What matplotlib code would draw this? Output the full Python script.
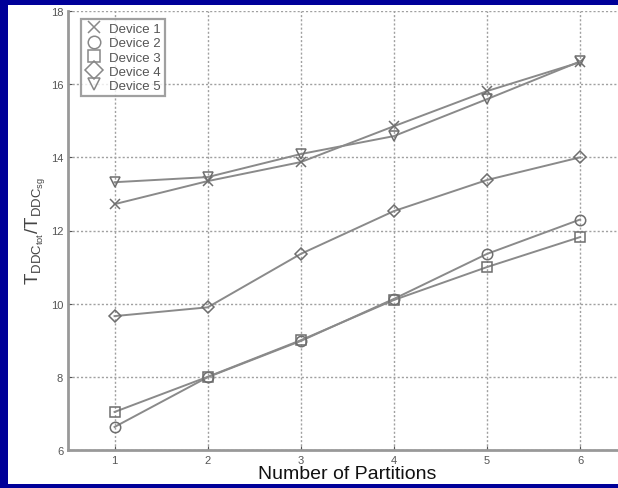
import matplotlib
matplotlib.use("Agg")
import matplotlib.pyplot as plt
from matplotlib.patches import Rectangle

partitions = [1, 2, 3, 4, 5, 6]
device1 = [12.72, 13.35, 13.87, 14.85, 15.81, 16.6]
device2 = [6.63, 7.99, 8.98, 10.13, 11.36, 12.3]
device3 = [7.04, 8.0, 9.0, 10.1, 11.0, 11.82]
device4 = [9.66, 9.9, 11.36, 12.53, 13.38, 14.0]
device5 = [13.32, 13.46, 14.09, 14.58, 15.59, 16.62]
labels = ["Device 1", "Device 2", "Device 3", "Device 4", "Device 5"]
markers = ["x", "o", "s", "D", "v"]
yticks = [6, 8, 10, 12, 14, 16, 18]

plt.rcParams['font.family'] = ['Liberation Sans', 'DejaVu Sans']
plt.rcParams['mathtext.fontset'] = 'custom'
plt.rcParams['mathtext.rm'] = 'Liberation Sans'

W, H = 618, 489
fig = plt.figure(figsize=(W / 100, H / 100), dpi=100, facecolor='#000099')
bg = Rectangle((8 / W, 4 / H), 1, (489 - 6 - 4) / H,
               transform=fig.transFigure, facecolor='white',
               edgecolor='none', zorder=-10)
fig.add_artist(bg)

ax = fig.add_axes([68 / W, 38 / H, (626.6 - 68) / W, (451 - 12) / H])
ax.set_zorder(5)
ax.set_facecolor('white')

series = [device1, device2, device3, device4, device5]
for vals, lab, mk in zip(series, labels, markers):
    ms = 7.5 if mk != 'D' else 6.5
    ax.plot(partitions, vals, color='#8a8a8a', lw=1.4, marker=mk, ms=ms,
            mfc='none', mec='#6e6e6e', mew=1.1, label=lab)

ax.set_xlim(0.5, 6.5)
ax.set_ylim(6, 18)
ax.set_xticks(partitions)
ax.set_yticks(yticks)
ax.tick_params(labelsize=8, colors='#555555', length=3, direction='in')
ax.grid(True, color='#a0a0a0', linestyle=(0, (1.5, 1.5)), lw=1.0)
for s in ['top', 'right']:
    ax.spines[s].set_visible(False)
for s in ['left', 'bottom']:
    ax.spines[s].set_color('#999999')
    ax.spines[s].set_linewidth(2)

ax.set_xlabel('Number of Partitions', fontsize=14, color='#111111', labelpad=0)
ax.set_ylabel(r'$\mathrm{T_{DDC_{tot}}/T_{DDC_{sg}}}$', fontsize=13.5, color='#444444', labelpad=2)

handles = []
for lab, mk in zip(labels, markers):
    h, = ax.plot([], [], ls='none', marker=mk, ms=9, mfc='none', mec='#888888', mew=1.1, label=lab)
    handles.append(h)
leg = ax.legend(handles=handles, loc='upper left', fontsize=9.5, frameon=True,
                fancybox=False, edgecolor='#888888', handletextpad=0.5,
                labelspacing=0.15, borderpad=0.3, bbox_to_anchor=(0.012, 0.997),
                handlelength=1.3)
leg.get_frame().set_linewidth(1.6)
for t in leg.get_texts():
    t.set_color('#555555')

fig.savefig('out.png', dpi=100, facecolor=fig.get_facecolor())
